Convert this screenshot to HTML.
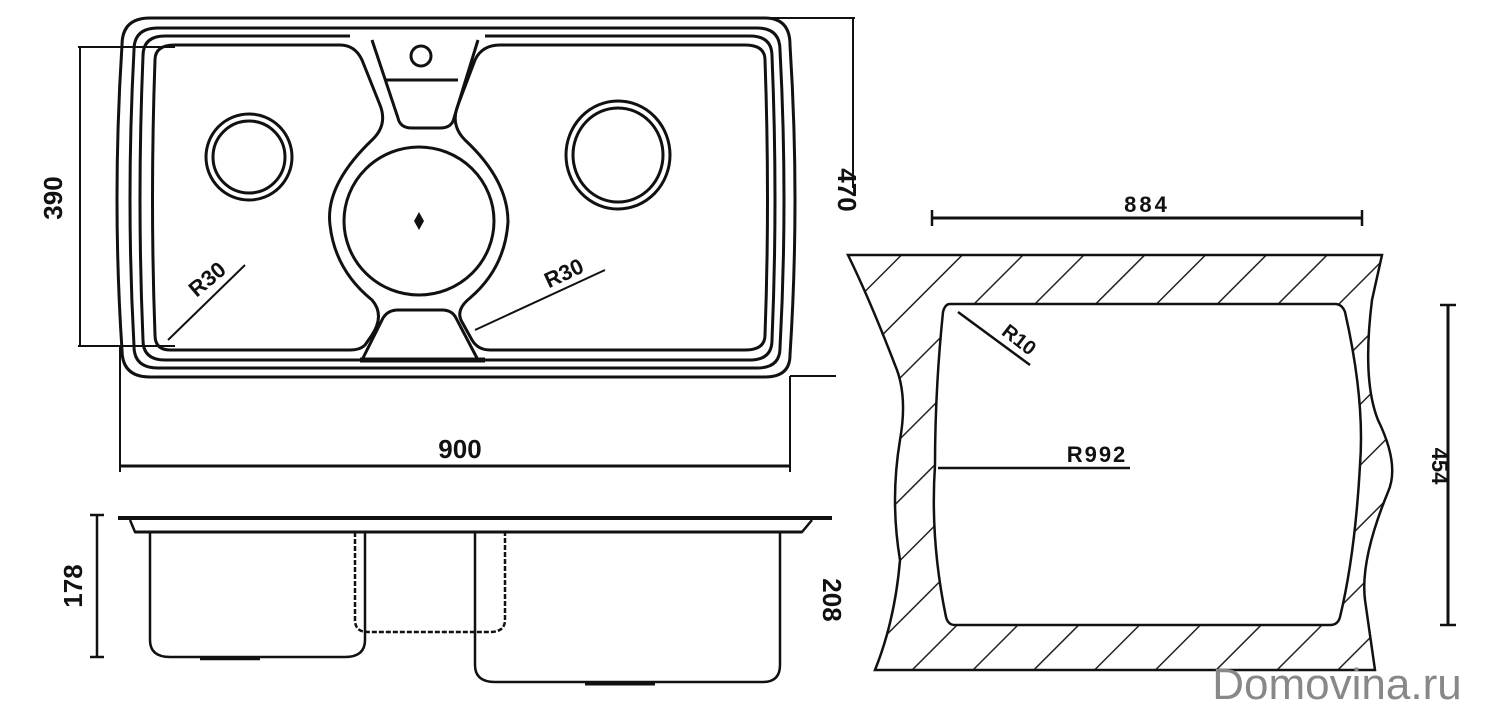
<!DOCTYPE html>
<html><head><meta charset="utf-8"><style>
html,body{margin:0;padding:0;background:#fff;width:1485px;height:714px;overflow:hidden}
svg{display:block}
text{font-family:"Liberation Sans",sans-serif;font-weight:bold;fill:#111}
</style></head><body>
<svg width="1485" height="714" viewBox="0 0 1485 714" xmlns="http://www.w3.org/2000/svg">
<defs>
<pattern id="h" width="43" height="43" patternUnits="userSpaceOnUse" patternTransform="rotate(45)">
<line x1="0" y1="0" x2="0" y2="43" stroke="#222" stroke-width="3"/>
</pattern>
</defs>
<g fill="none" stroke="#111" stroke-width="3">
<path d="M150,18 L765,18 Q790,18 790,45 Q800,200 790,355 Q790,377 765,377 L150,377 Q122,377 122,350 Q112,200 122,45 Q122,18 150,18 Z"/>
<path d="M158,28 L757,28 Q780,28 780,50 Q788,200 780,348 Q780,368 757,368 L158,368 Q134,368 134,346 Q126,200 134,50 Q134,28 158,28 Z"/>
<path d="M165,36 L350,36 M485,36 L750,36 Q772,36 772,56 Q778,200 772,340 Q772,360 750,360 L485,360 M360,360 L165,360 Q143,360 143,340 Q137,200 143,56 Q143,36 165,36"/>
<path d="M175,45 L340,45 Q355,45 362,60 L380,105 Q388,125 372,140 Q325,185 330,225 Q335,270 372,300 Q385,315 372,335 L365,345 Q360,350 350,350 L170,350 Q155,350 155,335 Q150,200 155,60 Q155,45 175,45 Z"/>
<path d="M500,45 L745,45 Q765,45 765,60 Q770,200 765,335 Q765,350 745,350 L490,350 Q478,350 472,340 L462,322 Q455,310 470,298 Q505,268 508,222 Q508,180 465,140 Q450,125 458,105 L475,60 Q482,45 500,45 Z"/>
<path d="M372,40 L398,118 Q400,128 412,128 L440,128 Q452,128 454,118 L478,40"/>
<path d="M385,80 L458,80"/>
<circle cx="421" cy="56" r="10"/>
<path d="M362,360 L383,318 Q388,310 398,310 L442,310 Q452,310 456,318 L478,360"/>
<path d="M360,360 L485,360" stroke-width="5"/>
<ellipse cx="419" cy="221" rx="75" ry="74"/>
<circle cx="249" cy="157" r="43"/><circle cx="249" cy="157" r="36"/>
<ellipse cx="618" cy="155" rx="52" ry="54"/><ellipse cx="618" cy="155" rx="45" ry="47"/>
</g>
<path d="M419,212 L424,221 L419,230 L414,221 Z" fill="#111"/>
<g stroke="#111" stroke-width="2" fill="none">
<line x1="78" y1="47" x2="175" y2="47"/><line x1="78" y1="346" x2="175" y2="346"/>
<line x1="80" y1="47" x2="80" y2="346"/>
<line x1="770" y1="18" x2="855" y2="18"/><line x1="853" y1="18" x2="853" y2="188"/>
<line x1="790" y1="376" x2="836" y2="376"/>
<line x1="120" y1="346" x2="120" y2="472"/><line x1="790" y1="376" x2="790" y2="472"/>
<line x1="120" y1="466" x2="790" y2="466" stroke-width="3"/>
<line x1="168" y1="340" x2="245" y2="265"/>
<line x1="475" y1="330" x2="605" y2="270"/>
</g>
<text x="62" y="198" font-size="26" transform="rotate(-90 62 198)" text-anchor="middle">390</text>
<text x="838" y="190" font-size="26" transform="rotate(90 838 190)" text-anchor="middle">470</text>
<text x="460" y="458" font-size="26" text-anchor="middle">900</text>
<text x="212" y="285" font-size="22" transform="rotate(-40 212 285)" text-anchor="middle">R30</text>
<text x="567" y="280" font-size="22" transform="rotate(-25 567 280)" text-anchor="middle">R30</text>
<g fill="none" stroke="#111" stroke-width="2.5">
<line x1="118" y1="518" x2="832" y2="518" stroke-width="4"/>
<path d="M130,520 L135,532 L802,532 L812,520"/>
<line x1="135" y1="532" x2="802" y2="532" stroke-width="3"/>
<path d="M150,532 L150,640 Q150,657 170,657 L345,657 Q365,657 365,640 L365,532"/>
<path d="M355,532 L355,620 Q355,632 368,632 L490,632 Q505,632 505,620 L505,532" stroke-dasharray="5,2"/>
<path d="M475,532 L475,665 Q475,682 495,682 L763,682 Q780,682 780,665 L780,532"/>
<line x1="585" y1="684" x2="655" y2="684" stroke-width="3"/>
<line x1="200" y1="659" x2="260" y2="659"/>
<line x1="97" y1="515" x2="97" y2="657"/>
<line x1="90" y1="515" x2="104" y2="515"/><line x1="90" y1="657" x2="104" y2="657"/>
</g>
<text x="82" y="586" font-size="26" transform="rotate(-90 82 586)" text-anchor="middle">178</text>
<text x="823" y="600" font-size="26" transform="rotate(90 823 600)" text-anchor="middle">208</text>
<path fill-rule="evenodd" fill="url(#h)" stroke="#111" stroke-width="2.5"
d="M848,255 L1382,255 L1372,300 Q1362,380 1378,420 Q1400,465 1388,492 Q1360,560 1365,600 L1375,670 L875,670 Q895,620 900,560 Q890,500 900,440 Q908,395 895,365 Q870,300 848,255 Z
M950,304 L1335,304 Q1342,304 1345,312 Q1365,400 1360,465 Q1355,555 1340,617 Q1338,625 1330,625 L955,625 Q948,625 946,617 Q930,540 935,465 Q935,390 943,312 Q945,304 950,304 Z"/>
<g stroke="#111" stroke-width="2.5" fill="none">
<line x1="932" y1="218" x2="1362" y2="218" stroke-width="3"/>
<line x1="932" y1="210" x2="932" y2="226"/><line x1="1362" y1="210" x2="1362" y2="226"/>
<line x1="1448" y1="305" x2="1448" y2="625" stroke-width="3"/>
<line x1="1440" y1="305" x2="1456" y2="305"/><line x1="1440" y1="625" x2="1456" y2="625"/>
<line x1="938" y1="468" x2="1130" y2="468"/>
<line x1="958" y1="312" x2="1030" y2="365"/>
</g>
<text x="1147" y="212" font-size="22" text-anchor="middle" letter-spacing="3">884</text>
<text x="1097" y="462" font-size="22" text-anchor="middle" letter-spacing="2">R992</text>
<text x="1015" y="345" font-size="20" transform="rotate(38 1015 345)" text-anchor="middle">R10</text>
<text x="1432" y="466" font-size="22" transform="rotate(90 1432 466)" text-anchor="middle">454</text>
<text x="1337" y="699" font-size="44" text-anchor="middle" style="font-weight:normal;fill:#888">Domovina.ru</text>
</svg>
</body></html>
